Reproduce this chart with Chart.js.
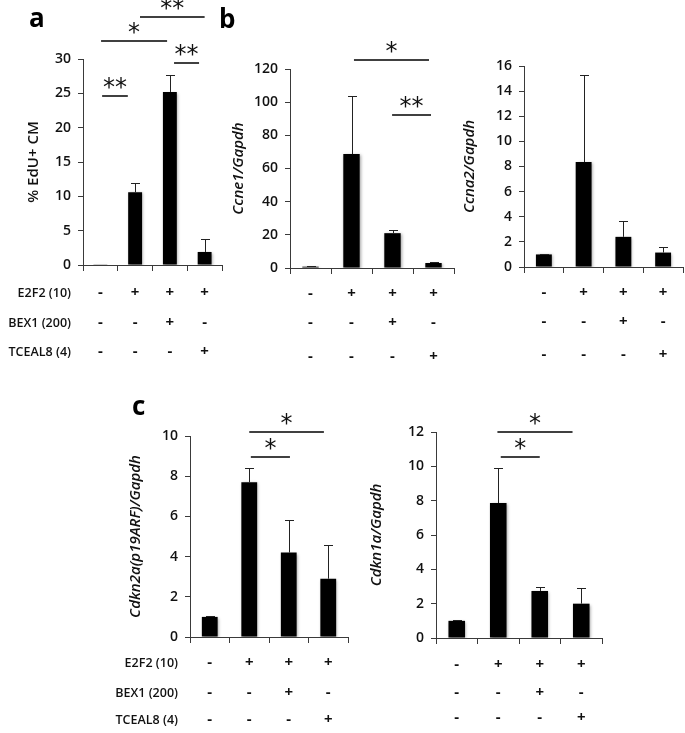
<!DOCTYPE html>
<html>
<head>
<meta charset="utf-8">
<script src="https://cdn.jsdelivr.net/npm/chart.js@4.4.1/dist/chart.umd.min.js"></script>
<style>
  body { margin: 0; background: #fff; }
  #wrap { position: relative; width: 685px; height: 733px; overflow: hidden; }
  canvas { position: absolute; }
  .lab { position: absolute; font: bold 26px "Open Sans"; line-height: 1; color: #000; }
</style>
</head>
<body>
<div id="wrap">
  <canvas id="chartA" width="230" height="370" style="left:0;top:0"></canvas>
  <canvas id="chartB1" width="232" height="370" style="left:230px;top:0"></canvas>
  <canvas id="chartB2" width="224" height="370" style="left:461px;top:0"></canvas>
  <canvas id="chartC1" width="355" height="353" style="left:0;top:380px"></canvas>
  <canvas id="chartC2" width="260" height="353" style="left:355px;top:380px"></canvas>
  <div class="lab" style="left:29px;top:4px">a</div>
  <div class="lab" style="left:219px;top:5px">b</div>
  <div class="lab" style="left:132px;top:392px">c</div>
</div>
<script>
"use strict";

Chart.defaults.font.family = '"Open Sans", sans-serif';
Chart.defaults.font.size = 14;
Chart.defaults.font.weight = "600";
Chart.defaults.color = "#111";

// treatment table (same for every panel)
let groups = ["1", "2", "3", "4"];
let rowNames = ["E2F2 (10)", "BEX1 (200)", "TCEAL8 (4)"];
let e2f2Row = ["-", "+", "+", "+"];
let bex1Row = ["-", "-", "+", "-"];
let tceal8Row = ["-", "-", "-", "+"];

// a: % EdU+ CM
let edu = [0.1, 10.6, 25.2, 1.9];
let eduErr = [0, 1.3, 2.5, 1.9];
let eduSig = [
  { from: 0.05, to: 0.79, at: 24.6, text: "**" },
  { from: 0.02, to: 1.92, at: 32.6, text: "*" },
  { from: 1.14, to: 3.0, at: 36.1, text: "**" },
  { from: 2.12, to: 2.84, at: 29.4, text: "**" },
];

// b: Ccne1/Gapdh
let ccne1 = [0.8, 68.7, 21, 3];
let ccne1Err = [0.3, 35, 1.7, 0.5];
let ccne1Sig = [
  { from: 1.06, to: 2.89, at: 125.4, text: "*" },
  { from: 1.99, to: 2.94, at: 92.3, text: "**" },
];

// b: Ccna2/Gapdh
let ccna2 = [1.0, 8.35, 2.4, 1.15];
let ccna2Err = [0.02, 6.9, 1.3, 0.45];

// c: Cdkn2a(p19ARF)/Gapdh
let cdkn2a = [1.0, 7.7, 4.2, 2.9];
let cdkn2aErr = [0.02, 0.7, 1.6, 1.7];
let cdkn2aSig = [
  { from: 1.0, to: 2.89, at: 10.2, text: "*" },
  { from: 1.04, to: 2.03, at: 8.96, text: "*" },
];

// c: Cdkn1a/Gapdh
let cdkn1a = [1.0, 7.86, 2.74, 2.0];
let cdkn1aErr = [0.02, 2.05, 0.23, 0.9];
let cdkn1aSig = [
  { from: 0.98, to: 2.79, at: 12.0, text: "*" },
  { from: 1.06, to: 2.0, at: 10.54, text: "*" },
];

let axisColor = "#3a3a3a";

function panelPlugin(p) {
  return {
    id: "panel_" + p.id,
    beforeDatasetsDraw(chart) {
      chart.ctx.save();
      chart.ctx.shadowColor = "rgba(0,0,0,0.35)";
      chart.ctx.shadowBlur = 3;
      chart.ctx.shadowOffsetX = 1;
      chart.ctx.shadowOffsetY = 1;
    },
    afterDatasetsDraw(chart) {
      let ctx = chart.ctx;
      ctx.restore();
      let x = chart.scales.x;
      let y = chart.scales.y;

      // error bars (upper only)
      ctx.save();
      ctx.strokeStyle = "#222";
      ctx.lineWidth = 1;
      for (let i = 0; i < p.values.length; i++) {
        let e = p.errors[i];
        if (!e) continue;
        let cx = Math.round(x.getPixelForValue(i)) + 0.5;
        let y0 = y.getPixelForValue(p.values[i]);
        let y1 = Math.round(y.getPixelForValue(p.values[i] + e)) + 0.5;
        ctx.beginPath();
        ctx.moveTo(cx, y0);
        ctx.lineTo(cx, y1);
        ctx.moveTo(cx - 4.5, y1);
        ctx.lineTo(cx + 4.5, y1);
        ctx.stroke();
      }
      ctx.restore();
    },
    afterDraw(chart) {
      let ctx = chart.ctx;
      let x = chart.scales.x;
      let y = chart.scales.y;
      let step = x.getPixelForValue(1) - x.getPixelForValue(0);
      ctx.save();

      // significance lines + stars
      ctx.strokeStyle = "#000";
      ctx.lineWidth = 1.5;
      ctx.fillStyle = "#111";
      ctx.font = '24px "DejaVu Sans"';
      ctx.textAlign = "center";
      (p.sig || []).forEach((s) => {
        let x0 = x.getPixelForValue(0) + s.from * step;
        let x1 = x.getPixelForValue(0) + s.to * step;
        let ly = Math.round(y.getPixelForValue(s.at));
        ctx.beginPath();
        ctx.moveTo(x0, ly);
        ctx.lineTo(x1, ly);
        ctx.stroke();
        let m = ctx.measureText(s.text);
        let center = ly - 13;
        let base = center - (m.actualBoundingBoxDescent - m.actualBoundingBoxAscent) / 2;
        ctx.fillText(s.text, (x0 + x1) / 2, base);
      });

      // treatment table
      let rows = [e2f2Row, bex1Row, tceal8Row];
      ctx.textBaseline = "middle";
      rows.forEach((row, r) => {
        let ty = chart.chartArea.bottom + p.rowOffsets[r];
        ctx.font = 'bold 15px "Open Sans"';
        ctx.textAlign = "center";
        row.forEach((v, i) => ctx.fillText(v, x.getPixelForValue(i), ty));
        if (p.showNames) {
          ctx.font = '600 12.5px "Open Sans"';
          ctx.textAlign = "right";
          ctx.fillText(rowNames[r], chart.chartArea.left - 12, ty);
        }
      });
      ctx.restore();
    },
  };
}

function makeChart(p) {
  return new Chart(document.getElementById(p.id), {
    type: "bar",
    data: {
      labels: groups,
      datasets: [
        {
          data: p.values,
          backgroundColor: "#000",
          borderWidth: 0,
          categoryPercentage: 1,
          barPercentage: 0.4,
        },
      ],
    },
    options: {
      responsive: false,
      animation: false,
      layout: { padding: p.pad },
      plugins: { legend: { display: false }, tooltip: { enabled: false } },
      scales: {
        x: {
          ticks: { display: false },
          grid: { drawOnChartArea: false, tickLength: 6, color: axisColor, offset: true },
          border: { color: axisColor },
          afterFit: (s) => { s.height = p.xHeight; },
        },
        y: {
          min: 0,
          max: p.max,
          ticks: { stepSize: p.step, padding: 7, font: { size: 14 } },
          grid: { drawOnChartArea: false, tickLength: 5, color: axisColor },
          border: { color: axisColor },
          title: {
            display: true,
            text: p.title,
            padding: { top: 0, bottom: 0 },
            font: { size: 15, style: p.italic ? "italic" : "normal" },
          },
          afterFit: (s) => { s.width = p.yWidth; },
        },
      },
    },
    plugins: [panelPlugin(p)],
  });
}

makeChart({
  id: "chartA", values: edu, errors: eduErr, sig: eduSig,
  max: 30, step: 5, title: "% EdU+ CM", italic: false,
  pad: { left: 25, top: 59, right: 8, bottom: 0 }, yWidth: 58, xHeight: 105,
  rowOffsets: [28, 58, 87], showNames: true,
});
makeChart({
  id: "chartB1", values: ccne1, errors: ccne1Err, sig: ccne1Sig,
  max: 120, step: 20, title: "Ccne1/Gapdh", italic: true,
  pad: { left: 0, top: 69, right: 8, bottom: 0 }, yWidth: 60, xHeight: 102,
  rowOffsets: [26, 55, 89], showNames: false,
});
makeChart({
  id: "chartB2", values: ccna2, errors: ccna2Err, sig: [],
  max: 16, step: 2, title: "Ccna2/Gapdh", italic: true,
  pad: { left: 0, top: 66, right: 2, bottom: 0 }, yWidth: 63, xHeight: 103,
  rowOffsets: [26, 55, 88], showNames: false,
});
makeChart({
  id: "chartC1", values: cdkn2a, errors: cdkn2aErr, sig: cdkn2aSig,
  max: 10, step: 2, title: "Cdkn2a(p19ARF)/Gapdh", italic: true,
  pad: { left: 127, top: 56, right: 7, bottom: 0 }, yWidth: 63, xHeight: 96,
  rowOffsets: [26, 56, 83], showNames: true,
});
makeChart({
  id: "chartC2", values: cdkn1a, errors: cdkn1aErr, sig: cdkn1aSig,
  max: 12, step: 2, title: "Cdkn1a/Gapdh", italic: true,
  pad: { left: 13, top: 52, right: 13, bottom: 0 }, yWidth: 68, xHeight: 95,
  rowOffsets: [27, 55, 80], showNames: false,
});
</script>
</body>
</html>
